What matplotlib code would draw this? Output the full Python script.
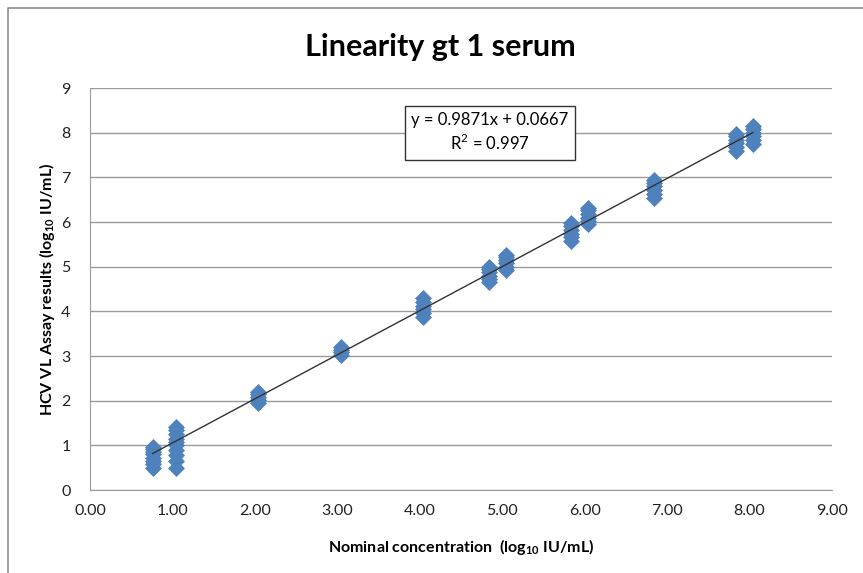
import numpy as np
import matplotlib.pyplot as plt
from matplotlib.lines import Line2D

# nominal concentration levels (log10 IU/mL) and measured results per level
levels = [0.76, 1.04, 2.04, 3.04, 4.04, 4.84, 5.04, 5.84, 6.04, 6.84, 7.84, 8.04]
results = [
    [0.50, 0.58, 0.65, 0.72, 0.80, 0.86, 0.92, 0.97],
    [0.50, 0.65, 0.78, 0.90, 1.00, 1.08, 1.15, 1.25, 1.35, 1.42],
    [1.95, 2.02, 2.08, 2.14, 2.20],
    [3.02, 3.08, 3.14, 3.20],
    [3.88, 3.96, 4.05, 4.13, 4.22, 4.30],
    [4.65, 4.72, 4.80, 4.88, 4.95, 5.00],
    [4.92, 5.00, 5.08, 5.15, 5.22, 5.26],
    [5.58, 5.66, 5.74, 5.82, 5.90, 5.98],
    [5.95, 6.02, 6.10, 6.18, 6.26, 6.32],
    [6.53, 6.62, 6.72, 6.80, 6.88, 6.93],
    [7.60, 7.68, 7.76, 7.84, 7.92, 7.98],
    [7.75, 7.83, 7.92, 8.00, 8.08, 8.15],
]
slope, intercept, r2 = 0.9871, 0.0667, 0.997

x = np.concatenate([[lv] * len(r) for lv, r in zip(levels, results)])
y = np.concatenate(results)

plt.rcParams['font.family'] = ['Lato', 'DejaVu Sans']
plt.rcParams['mathtext.fontset'] = 'custom'
plt.rcParams['mathtext.rm'] = 'Lato'
plt.rcParams['mathtext.bf'] = 'Lato:bold'

fig = plt.figure(figsize=(8.63, 5.73), dpi=100)
ax = fig.add_axes([90 / 863, 83 / 573, 742 / 863, 402 / 573])

ax.scatter(x, y, marker='D', s=75, color='#4F81BD', linewidths=0, zorder=3)

# linear trendline
xt = np.array([min(levels), max(levels)])
ax.plot(xt, slope * xt + intercept, color='#333333', lw=1, zorder=4)

ax.set_xlim(0, 9)
ax.set_ylim(0, 9)
ax.set_xticks(range(10))
ax.set_xticklabels(['%.2f' % v for v in range(10)])
ax.set_yticks(range(10))
ax.tick_params(length=0, labelsize=11.5, colors='#222222', pad=10)
ax.tick_params(axis='y', pad=14)
ax.grid(axis='y', color='#9a9a9a', lw=1)
ax.set_axisbelow(True)
for s in ['top', 'right']:
    ax.spines[s].set_visible(False)
for s in ['left', 'bottom']:
    ax.spines[s].set_color('#9a9a9a')

ax.set_xlabel(r'Nominal concentration  (log$_{\mathbf{10}}$ IU/mL)', fontsize=11.5,
              fontweight='bold', labelpad=14)
ax.set_ylabel(r'HCV VL Assay results (log$_{\mathbf{10}}$ IU/mL)', fontsize=11.5,
              fontweight='bold', labelpad=3)

fig.text(440 / 863, 1 - 47 / 573, 'Linearity gt 1 serum', ha='center', va='center',
         fontsize=22, fontweight='bold')

ax.text(4.85, 8.0, 'y = 0.9871x + 0.0667\nR$^2$ = 0.997', ha='center', va='center',
        fontsize=12, linespacing=1.25, zorder=5,
        bbox=dict(boxstyle='square,pad=0.4', fc='white', ec='#333333', lw=1))

# outer chart border
fig.add_artist(Line2D([8 / 863, 8 / 863, 1], [0, 1 - 8 / 573, 1 - 8 / 573],
                      color='#8c8c8c', lw=1.2))

fig.savefig('out.png', dpi=100)
